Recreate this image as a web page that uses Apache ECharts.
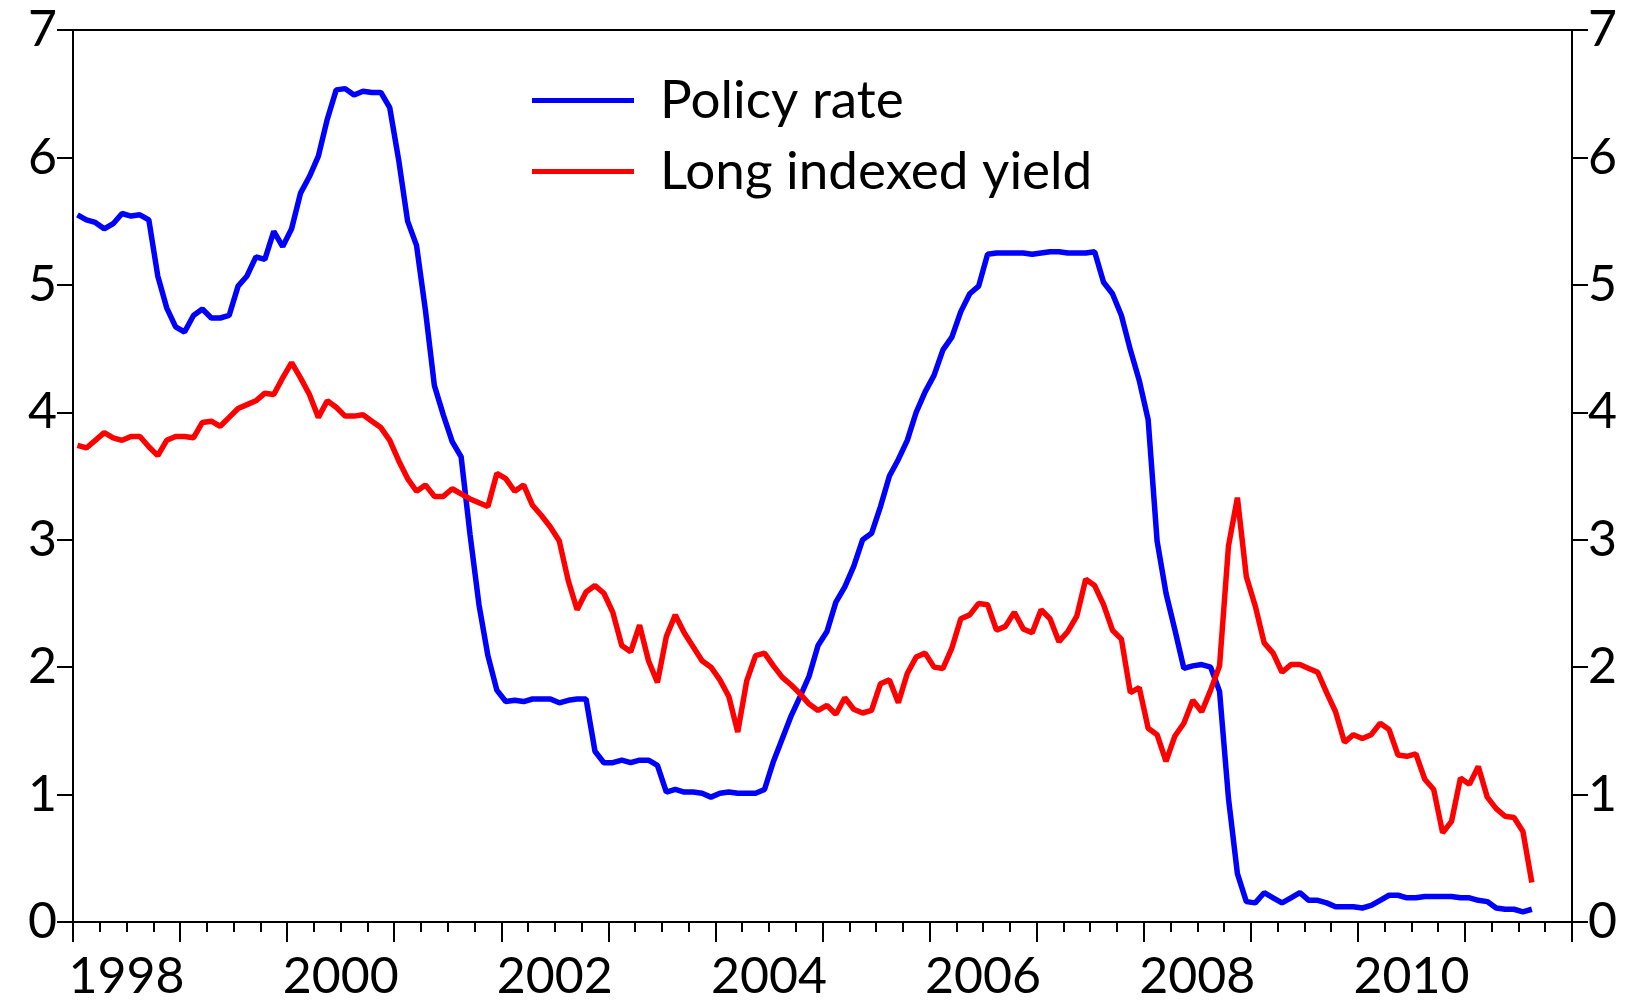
<!DOCTYPE html>
<html>
<head>
<meta charset="utf-8">
<script src="https://cdn.jsdelivr.net/npm/echarts@6/dist/echarts.min.js"></script>
<style>
  html, body { margin: 0; padding: 0; background: #fff; }
  #chart { width: 1646px; height: 1005px; }
</style>
</head>
<body>
<div id="chart"></div>
<script>
// monthly observations, first one is January 1998
const startYear = 1998;
const seriesNames = ['Policy rate', 'Long indexed yield'];

const policyRate = [
  5.55, 5.51, 5.49, 5.44, 5.48, 5.56, 5.54, 5.55, 5.51, 5.07,
  4.82, 4.67, 4.63, 4.76, 4.81, 4.74, 4.74, 4.76, 4.99, 5.07,
  5.22, 5.20, 5.42, 5.30, 5.44, 5.72, 5.85, 6.01, 6.30, 6.53,
  6.54, 6.49, 6.52, 6.51, 6.51, 6.39, 5.98, 5.50, 5.31, 4.80,
  4.21, 3.98, 3.77, 3.65, 3.04, 2.49, 2.09, 1.82, 1.73, 1.74,
  1.73, 1.75, 1.75, 1.75, 1.72, 1.74, 1.75, 1.75, 1.34, 1.25,
  1.25, 1.27, 1.25, 1.27, 1.27, 1.23, 1.02, 1.04, 1.02, 1.02,
  1.01, 0.98, 1.01, 1.02, 1.01, 1.01, 1.01, 1.04, 1.26, 1.44,
  1.62, 1.77, 1.93, 2.17, 2.28, 2.51, 2.63, 2.79, 3.00, 3.05,
  3.26, 3.50, 3.63, 3.78, 4.00, 4.16, 4.29, 4.49, 4.59, 4.79,
  4.93, 4.99, 5.24, 5.25, 5.25, 5.25, 5.25, 5.24, 5.25, 5.26,
  5.26, 5.25, 5.25, 5.25, 5.26, 5.02, 4.93, 4.76, 4.49, 4.25,
  3.94, 2.99, 2.58, 2.29, 1.99, 2.01, 2.02, 2.00, 1.81, 0.97,
  0.38, 0.16, 0.15, 0.23, 0.19, 0.15, 0.19, 0.23, 0.17, 0.17,
  0.15, 0.12, 0.12, 0.12, 0.11, 0.13, 0.17, 0.21, 0.21, 0.19,
  0.19, 0.20, 0.20, 0.20, 0.20, 0.19, 0.19, 0.17, 0.16, 0.11,
  0.10, 0.10, 0.08, 0.10
];

const longYield = [
  3.74, 3.72, 3.78, 3.84, 3.80, 3.78, 3.81, 3.81, 3.73, 3.66,
  3.78, 3.81, 3.81, 3.80, 3.92, 3.93, 3.89, 3.96, 4.03, 4.06,
  4.09, 4.15, 4.14, 4.27, 4.39, 4.27, 4.14, 3.96, 4.09, 4.04,
  3.97, 3.97, 3.98, 3.93, 3.88, 3.78, 3.62, 3.48, 3.38, 3.43,
  3.34, 3.34, 3.40, 3.36, 3.32, 3.29, 3.26, 3.52, 3.48, 3.38,
  3.43, 3.27, 3.19, 3.10, 2.99, 2.68, 2.45, 2.59, 2.64, 2.58,
  2.43, 2.17, 2.12, 2.33, 2.05, 1.88, 2.24, 2.41, 2.27, 2.16,
  2.05, 2.00, 1.90, 1.77, 1.49, 1.89, 2.09, 2.11, 2.01, 1.92,
  1.86, 1.79, 1.71, 1.66, 1.70, 1.63, 1.76, 1.67, 1.64, 1.66,
  1.87, 1.90, 1.72, 1.95, 2.08, 2.11, 2.00, 1.99, 2.15, 2.38,
  2.41, 2.50, 2.49, 2.29, 2.32, 2.43, 2.30, 2.27, 2.45, 2.38,
  2.20, 2.28, 2.40, 2.69, 2.64, 2.49, 2.29, 2.22, 1.80, 1.84,
  1.52, 1.47, 1.26, 1.46, 1.56, 1.74, 1.65, 1.82, 2.01, 2.95,
  3.33, 2.71, 2.48, 2.19, 2.11, 1.96, 2.02, 2.02, 1.99, 1.96,
  1.80, 1.65, 1.41, 1.47, 1.44, 1.47, 1.56, 1.51, 1.31, 1.30,
  1.32, 1.12, 1.04, 0.70, 0.79, 1.13, 1.08, 1.22, 0.98, 0.89,
  0.83, 0.82, 0.71, 0.31
];

// year labels sit in the middle of every second year
const yearLabels = ['1998', '2000', '2002', '2004', '2006', '2008', '2010'];

// x position of month i = middle of that month, in decimal years
function toPoints(values) {
  return values.map((v, i) => [startYear + (i + 0.5) / 12, v]);
}

const font = 'Lato, "Open Sans", sans-serif';
const chart = echarts.init(document.getElementById('chart'));

const yAxisCommon = {
  type: 'value',
  min: 0,
  max: 7,
  interval: 1,
  axisLine: { show: true, lineStyle: { color: '#000', width: 2 } },
  axisTick: { show: true, length: 16, lineStyle: { color: '#000', width: 2 } },
  splitLine: { show: false },
  axisLabel: { color: '#000', fontSize: 50, fontFamily: font, margin: 16 }
};

const option = {
  animation: false,
  backgroundColor: '#fff',
  grid: {
    left: 73,
    right: 74,
    top: 30,
    bottom: 83,
    show: true,
    borderColor: '#000',
    borderWidth: 2
  },
  legend: {
    orient: 'vertical',
    left: 527,
    top: 69,
    itemWidth: 102,
    itemHeight: 5,
    itemGap: 18,
    icon: 'rect',
    data: seriesNames,
    textStyle: {
      color: '#000',
      fontSize: 53,
      fontFamily: font,
      lineHeight: 52,
      padding: [0, 0, 0, 21]
    }
  },
  xAxis: [
    {
      type: 'value',
      position: 'bottom',
      min: 1998,
      max: 2012,
      interval: 1,
      axisLine: { show: true, onZero: false, lineStyle: { color: '#000', width: 2 } },
      axisTick: { show: true, length: 20, lineStyle: { color: '#000', width: 2 } },
      minorTick: { show: true, splitNumber: 4, length: 10, lineStyle: { color: '#000', width: 2 } },
      axisLabel: { show: false },
      splitLine: { show: false }
    },
    {
      type: 'value',
      position: 'bottom',
      min: 1998,
      max: 2012,
      interval: 0.5,
      axisLine: { show: false, onZero: false },
      axisTick: { show: false },
      splitLine: { show: false },
      axisLabel: {
        color: '#000',
        fontSize: 50,
        fontFamily: font,
        margin: 30,
        formatter: function (value) {
          const label = String(Math.round(value - 0.5));
          return Math.abs((value % 2) - 0.5) < 1e-6 && yearLabels.indexOf(label) >= 0 ? label : '';
        }
      }
    }
  ],
  yAxis: [
    Object.assign({ position: 'left' }, yAxisCommon),
    Object.assign({ position: 'right' }, yAxisCommon)
  ],
  series: [
    {
      name: seriesNames[0],
      type: 'line',
      xAxisIndex: 0,
      yAxisIndex: 0,
      showSymbol: false,
      symbol: 'none',
      color: '#0000ff',
      lineStyle: { color: '#0000ff', width: 5.5 },
      data: toPoints(policyRate)
    },
    {
      name: seriesNames[1],
      type: 'line',
      xAxisIndex: 0,
      yAxisIndex: 0,
      showSymbol: false,
      symbol: 'none',
      color: '#ff0000',
      lineStyle: { color: '#ff0000', width: 5.5 },
      data: toPoints(longYield)
    }
  ]
};

chart.setOption(option);
</script>
</body>
</html>
